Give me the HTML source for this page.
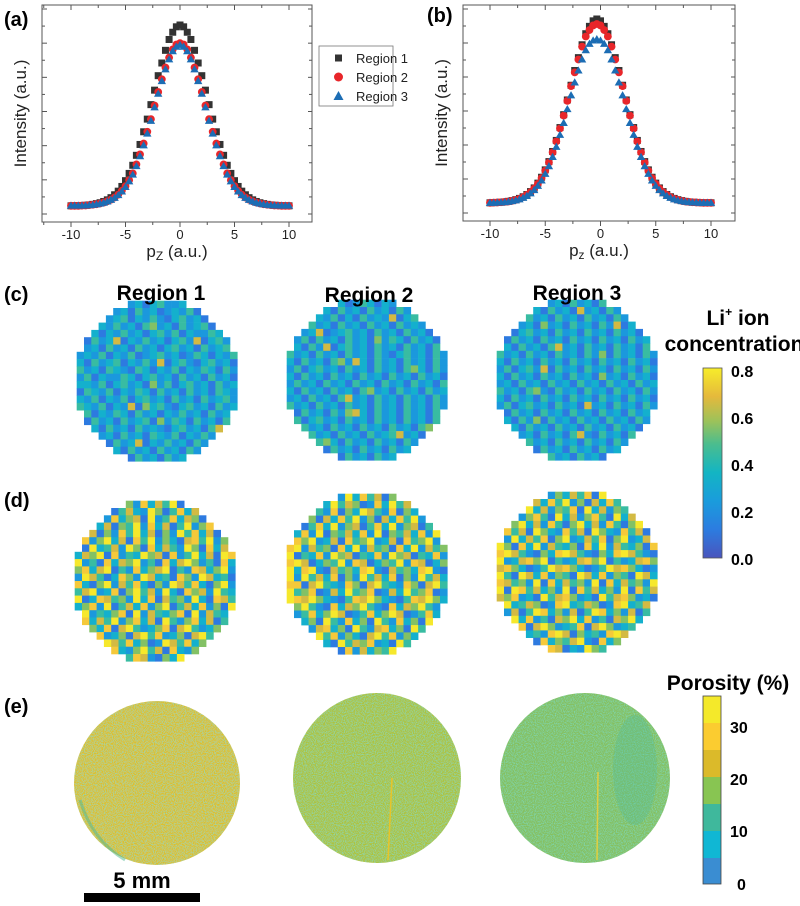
<!DOCTYPE html>
<html><head><meta charset="utf-8"><style>
html,body{margin:0;padding:0;background:#fff;width:800px;height:906px;overflow:hidden}
svg{display:block;font-family:"Liberation Sans",Arial,sans-serif}
</style></head><body>
<svg id="fig" width="800" height="906" viewBox="0 0 800 906" xmlns="http://www.w3.org/2000/svg">
<defs>
<filter id="speck" x="0" y="0" width="100%" height="100%">
<feTurbulence type="fractalNoise" baseFrequency="0.9" numOctaves="2" seed="3" result="n"/>
<feColorMatrix in="n" type="matrix" values="0 0 0 0 0.2  0 0 0 0 0.72  0 0 0 0 0.5  0 0 0 2.2 -0.9" result="c"/>
<feComposite in="c" in2="SourceGraphic" operator="in" result="m"/>
<feMerge><feMergeNode in="SourceGraphic"/><feMergeNode in="m"/></feMerge>
</filter>
<linearGradient id="parula" x1="0" y1="1" x2="0" y2="0">
<stop offset="0" stop-color="#4a55bd"/><stop offset="0.15" stop-color="#2c7ce0"/><stop offset="0.3" stop-color="#1a9cdc"/><stop offset="0.45" stop-color="#13b5c3"/><stop offset="0.6" stop-color="#4bbd8e"/><stop offset="0.72" stop-color="#9cc25a"/><stop offset="0.85" stop-color="#e5b93c"/><stop offset="1" stop-color="#f7ed2a"/>
</linearGradient>
</defs>
<g id="plots"></g>
<g id="maps"></g>
<text x="4" y="26" font-size="20" font-weight="bold">(a)</text>
<text x="427" y="22" font-size="20" font-weight="bold">(b)</text>
<text x="4" y="301" font-size="20" font-weight="bold">(c)</text>
<text x="4" y="507" font-size="20" font-weight="bold">(d)</text>
<text x="4" y="713" font-size="20" font-weight="bold">(e)</text>
<text x="161" y="300" font-size="21" font-weight="bold" text-anchor="middle">Region 1</text>
<text x="369" y="302" font-size="21" font-weight="bold" text-anchor="middle">Region 2</text>
<text x="577" y="300" font-size="21" font-weight="bold" text-anchor="middle">Region 3</text>
<text x="738" y="325" font-size="21" font-weight="bold" text-anchor="middle">Li<tspan font-size="12" dy="-9">+</tspan><tspan dy="9"> ion</tspan></text>
<text x="734" y="351" font-size="21" font-weight="bold" text-anchor="middle">concentration</text>
<text x="728" y="690" font-size="21" font-weight="bold" text-anchor="middle">Porosity (%)</text>
<rect x="703" y="368" width="19" height="190" fill="url(#parula)" stroke="#555" stroke-width="0.8"/>
<g font-size="16" font-weight="bold">
<text x="731" y="377">0.8</text><text x="731" y="424">0.6</text><text x="731" y="471">0.4</text><text x="731" y="518">0.2</text><text x="731" y="565">0.0</text>
</g>
<g stroke="none">
<rect x="703" y="696" width="18" height="27" fill="#f4e92a"/>
<rect x="703" y="723" width="18" height="27" fill="#fbcc30"/>
<rect x="703" y="750" width="18" height="27" fill="#dbba2a"/>
<rect x="703" y="777" width="18" height="27" fill="#88c552"/>
<rect x="703" y="804" width="18" height="27" fill="#3fb89c"/>
<rect x="703" y="831" width="18" height="27" fill="#10b7d4"/>
<rect x="703" y="858" width="18" height="26" fill="#3a8dd2"/>
<rect x="703" y="696" width="18" height="188" fill="none" stroke="#444" stroke-width="0.8"/>
</g>
<g font-size="16" font-weight="bold">
<text x="730" y="733">30</text><text x="730" y="785">20</text><text x="730" y="837">10</text><text x="737" y="890">0</text>
</g>
<g>
<ellipse cx="157" cy="783" rx="83" ry="82" fill="#dcc02e" filter="url(#speck)"/>
<path d="M 80 800 Q 92 840 125 860" stroke="#4fb890" stroke-width="3" fill="none" opacity="0.5"/>
</g>
<g>
<ellipse cx="377" cy="778" rx="84" ry="85" fill="#aec33e" filter="url(#speck)"/>
<line x1="392" y1="778" x2="388" y2="860" stroke="#e8c42a" stroke-width="1.5"/>
</g>
<g>
<ellipse cx="585" cy="778" rx="85" ry="85" fill="#86c05e" filter="url(#speck)"/>
<ellipse cx="635" cy="770" rx="22" ry="55" fill="#4cb99a" opacity="0.3"/>
<line x1="598" y1="772" x2="597" y2="860" stroke="#e0d040" stroke-width="1.5"/>
</g>
<rect x="84" y="893" width="116" height="9" fill="#000"/>
<text x="142" y="888" font-size="22" font-weight="bold" text-anchor="middle">5 mm</text>
</svg>
<script>
const pz = [-10,-9.667,-9.333,-9,-8.667,-8.333,-8,-7.667,-7.333,-7,-6.667,-6.333,-6,-5.667,-5.333,-5,-4.667,-4.333,-4,-3.667,-3.333,-3,-2.667,-2.333,-2,-1.667,-1.333,-1,-0.667,-0.333,0,0.333,0.667,1,1.333,1.667,2,2.333,2.667,3,3.333,3.667,4,4.333,4.667,5,5.333,5.667,6,6.333,6.667,7,7.333,7.667,8,8.333,8.667,9,9.333,9.667,10];
const aRegion1 = [0.1,0.1,0.2,0.3,0.4,0.6,0.9,1.3,1.8,2.5,3.4,4.6,6.2,8.2,10.8,14,18,22.5,28,34,41,48,56,64,72,79,86,92,96,99,100,99,96,92,86,79,72,64,56,48,41,34,28,22.5,18,14,10.8,8.2,6.2,4.6,3.4,2.5,1.8,1.3,0.9,0.6,0.4,0.3,0.2,0.1,0.1];
const aRegion2 = [0.1,0.1,0.1,0.2,0.3,0.5,0.7,1,1.4,1.9,2.6,3.5,4.7,6.3,8.4,11,14.3,18,23,28.5,34.5,41,48,55.5,63,70,76.5,82,86.5,89.2,90,89.2,86.5,82,76.5,70,63,55.5,48,41,34.5,28.5,23,18,14.3,11,8.4,6.3,4.7,3.5,2.6,1.9,1.4,1,0.7,0.5,0.3,0.2,0.1,0.1,0.1];
const aRegion3 = [0.2,0.2,0.2,0.2,0.3,0.4,0.6,0.9,1.3,1.8,2.5,3.4,4.5,6,8,10.5,13.6,17.3,22,27.5,33.5,40,47,54.5,62,69,75.5,81,85.5,88,89,88,85.5,81,75.5,69,62,54.5,47,40,33.5,27.5,22,17.3,13.6,10.5,8,6,4.5,3.4,2.5,1.8,1.3,0.9,0.6,0.4,0.3,0.2,0.2,0.2,0.2];
const bRegion1 = [0.1,0.2,0.3,0.4,0.6,0.9,1.3,1.8,2.5,3.4,4.6,6.2,8.2,10.8,14,18,22.5,28,34,41,48,56,64,72,79,86,92,96,99,100,99,96,92,86,79,72,64,56,48,41,34,28,22.5,18,14,10.8,8.2,6.2,4.6,3.4,2.5,1.8,1.3,0.9,0.6,0.4,0.3,0.2,0.1,0.1,0.1];
const bRegion2 = [0.1,0.2,0.3,0.4,0.6,0.8,1.2,1.7,2.3,3.2,4.4,5.9,7.9,10.4,13.6,17.5,22,27.5,33.5,40.5,47.5,55.5,63.5,71,78,85,90.5,94,96.5,97.3,96.5,94,90.5,85,78,71,63.5,55.5,47.5,40.5,33.5,27.5,22,17.5,13.6,10.4,7.9,5.9,4.4,3.2,2.3,1.7,1.2,0.8,0.6,0.4,0.3,0.2,0.1,0.1,0.1];
const bRegion3 = [0.1,0.1,0.2,0.3,0.5,0.7,1,1.4,2,2.8,3.8,5.2,7,9.3,12.2,15.8,20,25,30.5,37,43.5,51,58.5,65.5,72,78,83,86.5,88.3,89,88.3,86.5,83,78,72,65.5,58.5,51,43.5,37,30.5,25,20,15.8,12.2,9.3,7,5.2,3.8,2.8,2,1.4,1,0.7,0.5,0.3,0.2,0.1,0.1,0.1,0.1];
const xTicks = [-10,-5,0,5,10];
const seriesNames = ["Region 1","Region 2","Region 3"];

const cRegion1 = ["2332413231342231423132","3241323142312324132413","1324234132421342314232","3413242314523142341324","2431324231342413224314","3142361324231342613423","4231423142313423142342","2324132412342312431324","3142341324261342134231","4231432143132413243142","2413224313423142314231","3324134231524134231423","1432413243142314231432","3241324134231423142342","4324132615342134231423","2413243142313242314231","3142314234152431423142","4231423142321342314623","2342314231432413242314","3423142361324231423142","2314231423142314231423","4231423142314231423142"];
const cRegion2 = ["3241342312431324132423","2413231423142314231342","3142324131423261342314","2314231423142314232413","1423612342314231423142","3241423142315243142314","2314261342314231423142","4231423142314213423142","3142314526314231423142","2413423142314231453142","3142314231423142314231","2423142314231423142314","3142314231452314231423","2314231462314231423142","4231423142314231423142","3142314256314231423142","2413423142314231423142","3142314231423142314523","2314231423142346231423","4231453142314231423142","3142314231423142314231","2413423142314231423142"];
const cRegion3 = ["3142314231423142314231","2314231423162314231423","4231423142314231423142","3142315231423142613423","2413423142314231423142","3142314231423142314231","2314231462314231423142","4231423142314251423142","3142314231423142314231","2413426142314231423142","3142314231423152314231","2314231423142314231423","4231452142314231423142","3142314231423142314231","2413423142316231423142","3142314231423142314231","2314251423142314231423","4231423142314231423152","3142314231462142314231","2413423142314231423142","3142314231423142314231","2314231423142314231423"];
const dRegion1 = ["7236481527364812735264","3825714632851473625184","6148273561824736518273","2873615482736148257361","8361527483615284736152","4725836174825316748253","7183462851736428517364","3658172438561724836187","8241736582417368524173","5736814273568142763582","2864137528634175286341","7315826473152864731582","4682371584628317562843","8137645283716452831764","3572814637258146372518","6824357182643571826435","1736482573618425736148","8253716842357168423571","4687235168472351684723","7312864735128647351286","5846173258461732584617","2761538476215384762153"];
const dRegion2 = ["8473615283746152837461","6182738465127384651273","8836427153864271538642","7285163748251637482516","8614738256147382561473","6372815463728154637281","8758236174582361745823","7826451738264517382645","8143728561437285614372","7861354827613548276135","8378216453782164537821","8284637152846371528463","7716843275168432751684","8457126384571263845712","8768532147685321476853","7584217365842173658421","8247358612473586124735","6735184273518427351842","7482673518426735184267","8316847253168472531684","6857231846572318465723","7263548172635481726354"];
const dRegion3 = ["8364718253647182536471","7825163748251637482516","8471836254718362547183","8632574183625741836257","7158362741583627415836","8746185327461853274618","7283647158236471582364","8517382643517382643517","7864215378642153786421","8236758142367581423675","6753124867531248675312","8418637254186372541863","7645281736452817364528","8187463528174635281746","6572318467523184675231","7834651278346512783465","8261487352614873526148","6583724165837241658372","7347168523471685234716","6815342786153427861534","7468217354682173546821","6132854761328547613285"];

const NS = "http://www.w3.org/2000/svg";
function mk(tag, attrs, parent){ const e=document.createElementNS(NS,tag); for(const k in attrs) e.setAttribute(k,attrs[k]); parent.appendChild(e); return e; }

const colors = ["#333333","#e8262a","#1c6db4"];
function drawPlot(g, box, data, lblX){
  const xS = v => box.x0 + (v+10)/20*(box.x10-box.x0);
  const yS = v => box.base - v/100*box.h100;
  const frame = mk('rect',{x:box.l,y:box.t,width:box.r-box.l,height:box.b-box.t,fill:'none',stroke:'#555','stroke-width':1},g);
  
  
  for(let v=-12.5; v<=12.5; v+=2.5){
    const x=xS(v); if(x<box.l||x>box.r) continue;
    const major = xTicks.includes(v);
    const len = major?5:3;
    mk('line',{x1:x,y1:box.b,x2:x,y2:box.b+len,stroke:'#555'},g);
    mk('line',{x1:x,y1:box.t,x2:x,y2:box.t+len,stroke:'#555'},g);
  }
  xTicks.forEach(v=>{
    const t=mk('text',{x:xS(v),y:box.b+17,'font-size':13,'text-anchor':'middle',fill:'#222'},g);
    t.textContent=String(v);
    
    
  });
  for(let i=0;i<=12;i++){
    const y=box.b-8-i*(box.b-box.t-12)/12; const major=i%2==0;
    mk('line',{x1:box.l,y1:y,x2:box.l+(major?5:3),y2:y,stroke:'#555'},g);
    mk('line',{x1:box.r,y1:y,x2:box.r-(major?4:3),y2:y,stroke:'#555'},g);
  }
  const yl=mk('text',{x:0,y:0,'font-size':17,'text-anchor':'middle',fill:'#222',transform:`translate(${box.l-16},${(box.t+box.b)/2}) rotate(-90)`},g);
  yl.textContent='Intensity (a.u.)';
  
  
  const xl=mk('text',{x:(box.l+box.r)/2,y:box.b+35,'font-size':17,'text-anchor':'middle',fill:'#222'},g);
  xl.innerHTML='p<tspan font-size="12" dy="3">'+lblX+'</tspan><tspan dy="-3"> (a.u.)</tspan>';
  
  
  data.forEach((arr,si)=>{
    const sg=mk('g',{fill:colors[si]},g);
    
    
    arr.forEach((v,i)=>{
      const x=xS(pz[i]), y=yS(v);
      let m;
      if(si==0) m=mk('rect',{x:x-3.5,y:y-3.5,width:7,height:7},sg);
      else if(si==1) m=mk('circle',{cx:x,cy:y,r:3.9},sg);
      else m=mk('path',{d:`M${x} ${y-4.2}L${x+4.2} ${y+3}L${x-4.2} ${y+3}Z`},sg);
      
      
    });
  });
}
const plots=document.getElementById('plots');
const ga=mk('g',{},plots);


drawPlot(ga,{l:42,r:312,t:5,b:222,x0:71,x10:289,base:206,h100:181},[aRegion1,aRegion2,aRegion3],'Z');
const gb=mk('g',{},plots);


drawPlot(gb,{l:463,r:735,t:5,b:221,x0:490,x10:711,base:203,h100:184},[bRegion1,bRegion2,bRegion3],'z');
const lg=mk('g',{},plots);


mk('rect',{x:319,y:46,width:74,height:60,fill:'#fff',stroke:'#777','stroke-width':0.8},lg);
seriesNames.forEach((n,i)=>{
  const y=58+i*19;
  if(i==0) mk('rect',{x:335,y:y-3.5,width:7,height:7,fill:colors[0]},lg);
  else if(i==1) mk('circle',{cx:338.5,cy:y,r:4.5,fill:colors[1]},lg);
  else mk('path',{d:`M338.5 ${y-5}L343.5 ${y+4}L333.5 ${y+4}Z`,fill:colors[2]},lg);
  const t=mk('text',{x:356,y:y+5,'font-size':13,fill:'#222'},lg);
  t.textContent=n;
  
  
});

const parula=['#4a55bd','#2d7ae0','#1b98dd','#14b0cd','#38bca2','#83c165','#d3ba43','#f5c93a','#f6e82c'];
function drawMap(grid, cx, cy, name){
  const g=mk('g',{},document.getElementById('maps'));
  
  
  const n=grid.length, cs=7.3;
  grid.forEach((row,r)=>{
    for(let c=0;c<row.length;c++){
      const dx=c-(n-1)/2, dy=r-(n-1)/2;
      if(Math.hypot(dx,dy)>11.3) continue;
      const v=+row[c];
      const cell=mk('rect',{x:(cx+(c-n/2)*cs).toFixed(2),y:(cy+(r-n/2)*cs).toFixed(2),width:cs+0.3,height:cs+0.3,fill:parula[Math.min(8,v)]},g);
      
      
    }
  });
}
drawMap(cRegion1,157,381,'li-map-c-region-1');
drawMap(cRegion2,367,380,'li-map-c-region-2');
drawMap(cRegion3,577,380,'li-map-c-region-3');
drawMap(dRegion1,155,581,'li-map-d-region-1');
drawMap(dRegion2,367,574,'li-map-d-region-2');
drawMap(dRegion3,577,572,'li-map-d-region-3');
</script>
</body></html>
